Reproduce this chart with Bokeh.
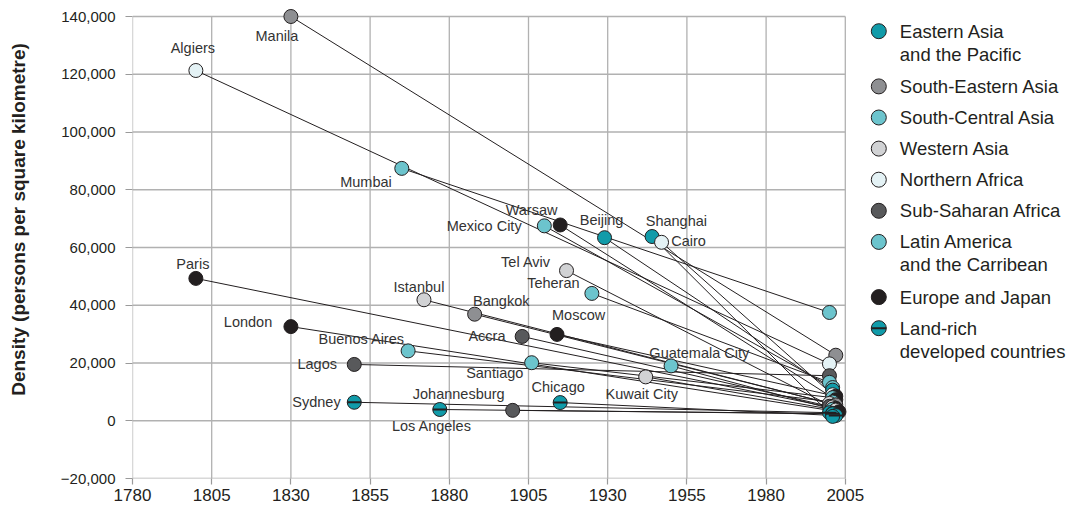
import math
from bokeh.plotting import figure
from bokeh.layouts import row
from bokeh.models import Range1d, FixedTicker
from bokeh.core.properties import value
from bokeh.embed import file_html
from bokeh.resources import INLINE

# ---------------- data ----------------
cities = ["Manila", "Algiers", "Mumbai", "Paris", "Istanbul", "London",
          "Buenos Aires", "Lagos", "Sydney", "Los Angeles", "Johannesburg",
          "Chicago", "Santiago", "Accra", "Moscow", "Bangkok", "Kuwait City",
          "Guatemala City", "Mexico City", "Warsaw", "Beijing", "Shanghai",
          "Cairo", "Tel Aviv", "Teheran"]
city_region = ["SEA", "NA", "SCA", "EJ", "WA", "EJ",
               "LA", "SSA", "LR", "LR", "SSA",
               "LR", "LA", "SSA", "EJ", "SEA", "WA",
               "LA", "LA", "EJ", "EA", "EA",
               "NA", "WA", "SCA"]
start_year = [1830, 1800, 1865, 1800, 1872, 1830,
              1867, 1850, 1850, 1877, 1900,
              1915, 1906, 1903, 1914, 1888, 1942,
              1950, 1910, 1915, 1929, 1944,
              1947, 1917, 1925]
start_density = [140000, 121300, 87400, 49300, 41900, 32600,
                 24200, 19500, 6400, 3900, 3600,
                 6300, 20100, 29200, 29900, 36900, 15200,
                 19000, 67500, 67800, 63400, 63800,
                 61800, 52000, 44100]
end_year = [2002, 2000, 2000, 2002, 2000, 2003,
            2001, 2000, 2000, 2001, 2001,
            2002, 2001, 2000, 2002, 2002, 2002,
            2001, 2001, 2002, 2001, 2001,
            2001, 2001, 2000]
end_density = [22700, 19700, 37500, 4300, 6000, 3100,
               6500, 15600, 2800, 2400, 2500,
               1800, 8000, 5000, 8500, 5500, 3700,
               4000, 11500, 7300, 10600, 1500,
               9000, 4800, 13300]

region_keys = ["EA", "SEA", "SCA", "WA", "NA", "SSA", "LA", "EJ", "LR"]
region_labels = [["Eastern Asia", "and the Pacific"],
                 ["South-Eastern Asia"],
                 ["South-Central Asia"],
                 ["Western Asia"],
                 ["Northern Africa"],
                 ["Sub-Saharan Africa"],
                 ["Latin America", "and the Carribean"],
                 ["Europe and Japan"],
                 ["Land-rich", "developed countries"]]
region_colors = ["#119ba9", "#8e8f92", "#6cc4cd", "#d1d2d4", "#e4f2f5",
                 "#58595b", "#6cc4cd", "#231f20", "#119ba9"]

x_ticks = list(range(1780, 2006, 25))
y_ticks = list(range(-20000, 140001, 20000))
y_title = "Density (persons per square kilometre)"

# label placement (screen pixels relative to the start dot)
label_dx = [-14, -3, -10, -3, -5, -18.7,
            -3.3, -17.3, -13.6, -8, -8,
            -2, -8.3, -16.7, -5, -1.6, -4,
            -21.7, -22.7, -2.7, -3, -6.3,
            9.7, -15.7, -12.3]
label_dy = [19, -22, 14, -14, -13, -5,
            -12, 0, 0, 17, -16,
            -16, 10, 0, -19, -13, 17,
            -13, 0, -15, -18, -16,
            -1, -9, -10]
label_align = ["center", "center", "right", "center", "center", "right",
               "right", "right", "right", "center", "right",
               "center", "right", "right", "left", "left", "center",
               "left", "right", "right", "center", "left",
               "left", "right", "right"]

# ---------------- styling ----------------
INK = "#231f20"
GRID = "#b1b1b1"
FONT = "Liberation Sans"
color_of = dict(zip(region_keys, region_colors))

PX_PER_YEAR = 3.168
PX_PER_UNIT = 57.75 / 20000
FRAME_W, FRAME_H = 719, 470
BORDER_T, BORDER_B = 8, 31
TITLE_W = 30
x_end = 1780 + FRAME_W / PX_PER_YEAR
y_end = -20000 + FRAME_H / PX_PER_UNIT

# page-pixel ranges for the side panels (frame spans page y 8..478)
PAGE_TOP, PAGE_BOTTOM = BORDER_T, BORDER_T + FRAME_H


def side_panel(x0, width):
    f = figure(frame_width=width, frame_height=FRAME_H,
               min_border_left=0, min_border_right=0,
               min_border_top=BORDER_T, min_border_bottom=BORDER_B,
               x_range=Range1d(x0, x0 + width),
               y_range=Range1d(PAGE_BOTTOM, PAGE_TOP),
               x_axis_type=None, y_axis_type=None,
               output_backend="svg", toolbar_location=None)
    f.outline_line_color = None
    f.grid.visible = False
    return f


# ---------------- y title panel ----------------
tp = side_panel(0, TITLE_W)
tp.text(x=[18], y=[219], text=[y_title], angle=math.pi / 2,
        text_align="center", text_baseline="middle",
        text_font=value(FONT), text_font_size="19px",
        text_font_style="bold", text_color=INK)

# ---------------- main plot ----------------
p = figure(frame_width=FRAME_W, frame_height=FRAME_H,
           min_border_left=132 - TITLE_W, min_border_right=15,
           min_border_top=BORDER_T, min_border_bottom=BORDER_B,
           x_range=Range1d(1780, x_end), y_range=Range1d(-20000, y_end),
           output_backend="svg", toolbar_location=None)
p.outline_line_color = None
p.xgrid.visible = False
p.ygrid.visible = False

# grid lines drawn from tick lists
p.segment(x0=x_ticks, y0=[y_ticks[0]] * len(x_ticks),
          x1=x_ticks, y1=[y_ticks[-1]] * len(x_ticks),
          line_color=GRID, line_width=1.3)
p.segment(x0=[x_ticks[0]] * len(y_ticks), y0=y_ticks,
          x1=[x_ticks[-1]] * len(y_ticks), y1=y_ticks,
          line_color=GRID, line_width=1.3)

for ax in (p.xaxis, p.yaxis):
    ax.axis_line_color = None
    ax.major_tick_line_color = "#9a9a9a"
    ax.major_tick_line_width = 1.2
    ax.major_tick_in = 0
    ax.minor_tick_line_color = None
    ax.major_label_text_font = FONT
    ax.major_label_text_color = INK
p.xaxis.ticker = FixedTicker(ticks=x_ticks)
p.yaxis.ticker = FixedTicker(ticks=y_ticks)
p.xaxis.major_tick_out = 6
p.yaxis.major_tick_out = 7
p.xaxis.major_label_text_font_size = "17px"
p.yaxis.major_label_text_font_size = "15px"
p.xaxis.major_label_standoff = 4
p.yaxis.major_label_standoff = 10
p.yaxis.major_label_overrides = {t: f"{t:,}".replace("-", "\u2212") for t in y_ticks}

# connecting lines
p.segment(x0=start_year, y0=start_density, x1=end_year, y1=end_density,
          line_color=INK, line_width=1)

# start dots
cols = [color_of[r] for r in city_region]
p.scatter(start_year, start_density, size=14, fill_color=cols,
          line_color=INK, line_width=1)

# end dots, higher densities first so lower ones sit on top
order = sorted(range(len(cities)), key=lambda i: -end_density[i])
p.scatter([end_year[i] for i in order], [end_density[i] for i in order],
          size=14, fill_color=[cols[i] for i in order],
          line_color=INK, line_width=1)

# stripe for land-rich developed countries
lr = [i for i, r in enumerate(city_region) if r == "LR"]
p.scatter([start_year[i] for i in lr] + [end_year[i] for i in lr],
          [start_density[i] for i in lr] + [end_density[i] for i in lr],
          marker="dash", size=14, line_color=INK, line_width=2)

# city labels
for al in ("left", "center", "right"):
    idx = [i for i in range(len(cities)) if label_align[i] == al]
    p.text(x=[start_year[i] for i in idx], y=[start_density[i] for i in idx],
           text=[cities[i] for i in idx],
           x_offset=[label_dx[i] for i in idx], y_offset=[label_dy[i] for i in idx],
           text_align=al, text_baseline="middle",
           text_font=value(FONT), text_font_size="14.5px", text_color="#333333")

# ---------------- legend panel ----------------
LEG_X0 = 132 + FRAME_W + 15
LEG_W = 1074 - LEG_X0
leg = side_panel(LEG_X0, LEG_W)

mx, tx, y0, step, line_gap = 878.3, 899.3, 30.7, 31.1, 24.1
my, ty, tt = [], [], []
extra = 0
for i, lines in enumerate(region_labels):
    yy = y0 + step * i + line_gap * extra
    my.append(yy)
    for k, t in enumerate(lines):
        ty.append(yy + 23 * k)
        tt.append(t)
    extra += len(lines) - 1
leg.scatter([mx] * len(my), my, size=15, fill_color=region_colors,
            line_color=INK, line_width=1)
leg.scatter([mx], [my[-1]], marker="dash", size=15, line_color=INK, line_width=2)
leg.text(x=[tx] * len(ty), y=ty, text=tt, text_baseline="middle",
         text_font=value(FONT), text_font_size="18.5px", text_color=INK)

layout = row(tp, p, leg)
open("out.html", "w").write(file_html(layout, INLINE))
